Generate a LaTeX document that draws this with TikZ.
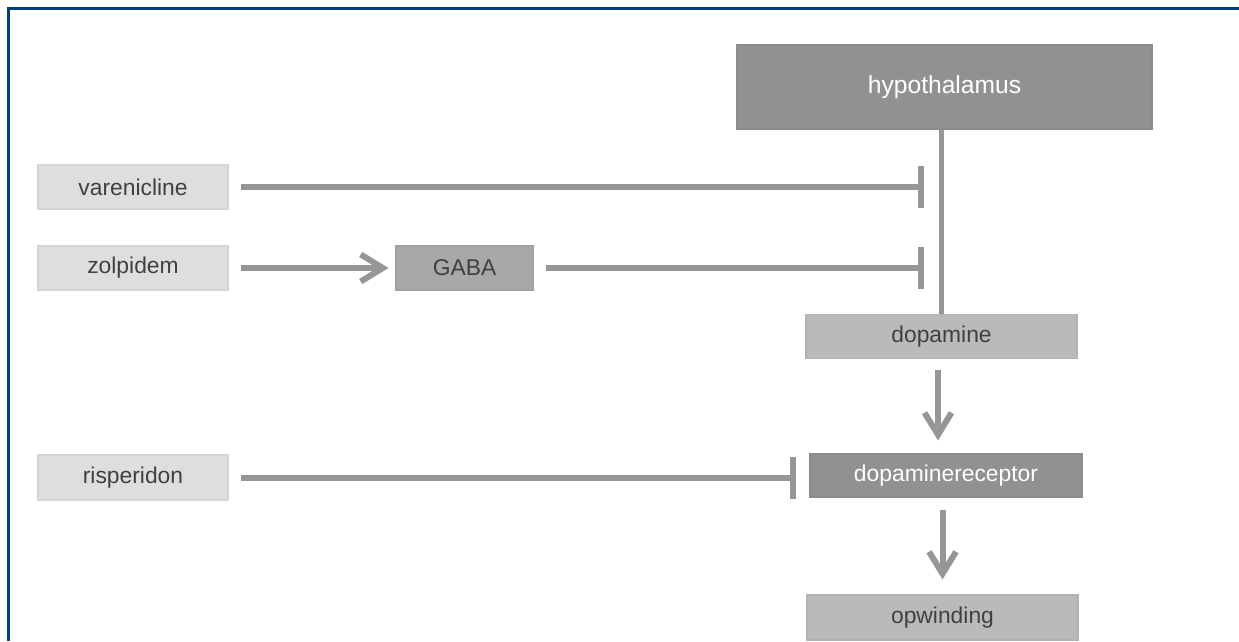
\documentclass[tikz,border=0pt]{standalone}
\usepackage{fontspec}
\setmainfont{Liberation Sans}
\usepackage{tikz}
\usetikzlibrary{positioning,arrows.meta,calc}
\definecolor{framblue}{RGB}{0,62,125}
\definecolor{linegray}{RGB}{150,150,150}
\definecolor{lightgray}{RGB}{222,222,222}
\definecolor{midgray}{RGB}{186,186,186}
\definecolor{gabagray}{RGB}{168,168,168}
\definecolor{darkgray}{RGB}{145,145,145}
\definecolor{textgray}{RGB}{64,64,64}
\tikzset{
  box/.style={draw, line width=0.6pt, minimum height=0.88cm, inner sep=0pt,
              align=center, font=\fontsize{13}{15}\selectfont},
  lightbox/.style={box, draw=lightgray!96!black, fill=lightgray, text=textgray,
                   minimum width=3.8cm},
  midbox/.style={box, draw=midgray!96!black, fill=midgray, text=textgray,
                 minimum width=5.42cm, minimum height=0.87cm},
  darkbox/.style={box, draw=darkgray!96!black, fill=darkgray, text=white,
                  minimum width=5.44cm, minimum height=0.86cm},
  arrow/.style={-{Straight Barb[length=4.4mm,width=5.4mm]}, line width=0.12cm,
                linegray},
  blockarrow/.style={-{Bar[width=0.84cm]}, line width=0.12cm, linegray},
}

\begin{document}
\begin{tikzpicture}
  \useasboundingbox (0,0) rectangle (24.78,-12.82);
  \draw[line width=0.06cm, framblue] (0.17,-12.82) -- (0.17,-0.17) -- (24.78,-0.17);

  \node[darkbox, minimum width=8.3cm, minimum height=1.68cm,
        font=\fontsize{14}{16}\selectfont] (hypo) at (18.89,-1.74) {hypothalamus};
  \node[lightbox]                  (vare) at (2.66,-3.74)  {varenicline};
  \node[lightbox]                  (zolp) at (2.66,-5.36)  {zolpidem};
  \node[box, draw=gabagray!96!black, fill=gabagray, text=textgray,
        minimum width=2.74cm]      (gaba) at (9.29,-5.36)  {GABA};
  \node[midbox]                    (dopa) at (18.83,-6.73) {dopamine};
  \node[darkbox]                   (rec)  at (18.92,-9.51) {dopaminereceptor};
  \node[lightbox, minimum height=0.9cm] (risp) at (2.66,-9.55) {risperidon};
  \node[midbox, minimum height=0.9cm]   (opw)  at (18.85,-12.35) {opwinding};

  \draw[line width=0.1cm, linegray] (hypo.south -| dopa) -- (dopa.north);
  \draw[blockarrow, shorten <=0.24cm, shorten >=0.36cm] (vare) -- (vare -| dopa);
  \draw[arrow, shorten <=0.24cm, shorten >=0.14cm] (zolp) -- (gaba);
  \draw[blockarrow, shorten <=0.24cm, shorten >=0.36cm] (gaba) -- (gaba -| dopa);
  \draw[arrow, shorten <=0.22cm, shorten >=0.26cm]
    ($(dopa.south)+(-0.07,0)$) -- ($(dopa.south |- rec.north)+(-0.07,0)$);
  \draw[blockarrow, shorten <=0.24cm, shorten >=0.26cm] (risp) -- (risp -| rec.west);
  \draw[arrow, shorten <=0.24cm, shorten >=0.3cm] (rec.south -| opw) -- (opw.north);
\end{tikzpicture}
\end{document}
